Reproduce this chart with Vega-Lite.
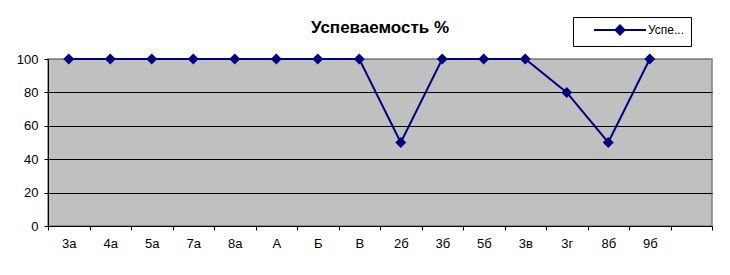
{
  "$schema": "https://vega.github.io/schema/vega-lite/v6.json",
  "width": 664,
  "height": 167,
  "autosize": {"type": "none"},
  "padding": {"left": 48, "top": 59, "right": 18, "bottom": 49},
  "background": "white",
  "title": {
    "text": "Успеваемость %",
    "font": "Liberation Sans",
    "fontSize": 17,
    "fontWeight": "bold",
    "color": "black",
    "anchor": "middle",
    "offset": -20
  },
  "data": {
    "values": [
      {"class": "3а", "value": 100, "series": "Успе..."},
      {"class": "4а", "value": 100, "series": "Успе..."},
      {"class": "5а", "value": 100, "series": "Успе..."},
      {"class": "7а", "value": 100, "series": "Успе..."},
      {"class": "8а", "value": 100, "series": "Успе..."},
      {"class": "А", "value": 100, "series": "Успе..."},
      {"class": "Б", "value": 100, "series": "Успе..."},
      {"class": "В", "value": 100, "series": "Успе..."},
      {"class": "2б", "value": 50, "series": "Успе..."},
      {"class": "3б", "value": 100, "series": "Успе..."},
      {"class": "5б", "value": 100, "series": "Успе..."},
      {"class": "3в", "value": 100, "series": "Успе..."},
      {"class": "3г", "value": 80, "series": "Успе..."},
      {"class": "8б", "value": 50, "series": "Успе..."},
      {"class": "9б", "value": 100, "series": "Успе..."}
    ]
  },
  "encoding": {
    "x": {
      "field": "class",
      "type": "nominal",
      "bandPosition": 0.5,
      "scale": {
        "type": "band",
        "paddingInner": 0,
        "paddingOuter": 0,
        "domain": ["3а", "4а", "5а", "7а", "8а", "А", "Б", "В", "2б", "3б", "5б", "3в", "3г", "8б", "9б", " "]
      },
      "axis": {
        "title": null,
        "labelAngle": 0,
        "tickBand": "extent",
        "grid": false,
        "domainColor": "black",
        "tickColor": "black",
        "tickSize": 4,
        "labelPadding": 7,
        "labelFont": "Liberation Sans",
        "labelFontSize": 13,
        "labelColor": "black"
      }
    },
    "y": {
      "field": "value",
      "type": "quantitative",
      "scale": {"domain": [0, 100], "nice": false},
      "axis": {
        "title": null,
        "values": [0, 20, 40, 60, 80, 100],
        "grid": true,
        "gridColor": {"condition": {"test": "datum.value == 100", "value": "#808080"}, "value": "black"},
        "gridOpacity": 1,
        "domainColor": "black",
        "tickColor": "black",
        "tickSize": 4,
        "labelPadding": 6,
        "labelFont": "Liberation Sans",
        "labelFontSize": 13,
        "labelColor": "black"
      }
    },
    "color": {
      "field": "series",
      "type": "nominal",
      "scale": {"range": ["#000080"]},
      "legend": {
        "title": null,
        "orient": "none",
        "legendX": 525,
        "legendY": -42,
        "strokeColor": "black",
        "fillColor": "white",
        "padding": 7,
        "symbolType": "M-5.2,0H5.2M0,-0.9L0.9,0L0,0.9L-0.9,0Z",
        "symbolSize": 100,
        "symbolOffset": 34,
        "symbolStrokeWidth": 2,
        "symbolFillColor": "#000080",
        "symbolStrokeColor": "#000080",
        "labelFont": "Liberation Sans",
        "labelFontSize": 12,
        "labelColor": "black",
        "labelOffset": 22
      }
    }
  },
  "layer": [
    {"mark": {"type": "line", "strokeWidth": 2}},
    {"mark": {"type": "point", "shape": "diamond", "filled": true, "size": 120, "opacity": 1}}
  ],
  "config": {
    "view": {"fill": "#C0C0C0", "stroke": "#808080", "strokeWidth": 1.5}
  }
}
